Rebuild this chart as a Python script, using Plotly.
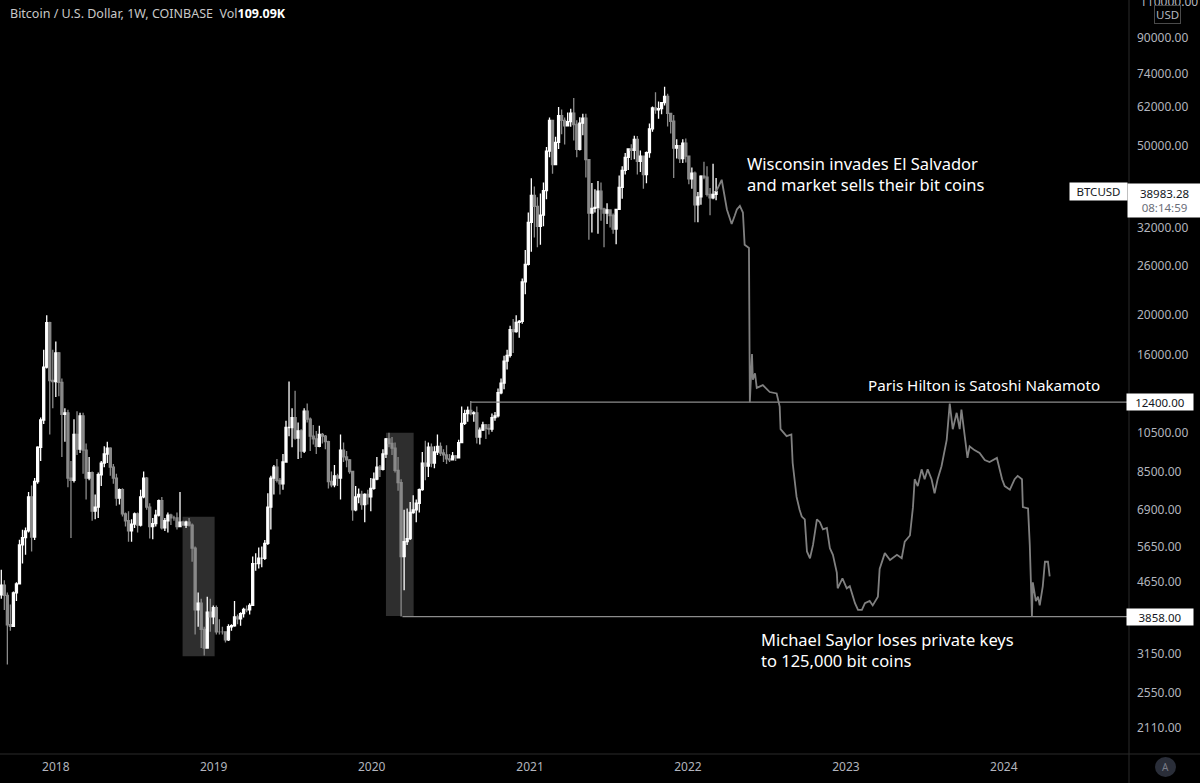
import math
import pandas as pd
import plotly.graph_objects as go

# weekly BTC/USD candles (Coinbase), weeks start on Monday
first_week = "2017-08-28"
first_open = 4340

close_2017 = [4580, 4330, 3690, 3660, 4390, 4610, 5700, 5930, 6150, 7400, 5950, 8050, 9700, 11250, 15000, 19100, 13950, 13860]
high_2017 = [4980, 4700, 4400, 4120, 4420, 4650, 5860, 6190, 6270, 7600, 7880, 8200, 9750, 11400, 16500, 19890, 19200, 16500]
low_2017 = [4250, 4000, 2972, 3570, 3660, 4200, 4600, 5150, 5400, 6100, 5500, 5850, 7950, 9000, 11000, 14900, 10400, 12000]

close_2018 = [16200, 13800, 11600, 11700, 8200, 8100, 10400, 9600, 11500, 9550, 8200, 8450, 6850, 7000, 8350, 8900,
              9350, 9650, 8700, 8200, 7350, 7700, 6750, 6500, 6150, 6380, 6750, 6350, 7400, 8200, 7000, 6300,
              6400, 6700, 7250, 6250, 6500, 6700, 6600, 6600, 6300, 6450, 6350, 6450, 6350, 5600, 4000, 4150,
              3600, 3250, 3950, 3850]
high_2018 = [17250, 16300, 14100, 12000, 11900, 9000, 11300, 11800, 11700, 11700, 9900, 9200, 8500, 7500, 8450, 9000,
             9750, 9990, 9700, 8850, 8400, 7750, 7760, 6800, 6850, 6550, 6800, 6800, 7700, 8500, 8250, 7150,
             6600, 6900, 7300, 7400, 6600, 6800, 6750, 6680, 6800, 7600, 6500, 6500, 6600, 6400, 5650, 4400,
             4250, 3650, 4300, 4250]
low_2018 = [12750, 12800, 9200, 10000, 7800, 5920, 8000, 9300, 9400, 8400, 7300, 8100, 6500, 6550, 6600, 7850,
            8700, 8900, 8300, 7950, 7050, 7100, 6650, 6300, 5800, 5800, 6250, 6100, 6300, 7350, 6900, 5900,
            5880, 6300, 6650, 6200, 6150, 6100, 6350, 6500, 6200, 6300, 6350, 6250, 6300, 5200, 3500, 3650,
            3250, 3122, 3240, 3550]

close_2019 = [4050, 3550, 3550, 3550, 3400, 3650, 3670, 3850, 3810, 3920, 4010, 4000, 4100, 5150, 5150, 5300,
              5300, 5750, 7000, 8200, 8700, 8100, 7950, 8950, 10800, 10800, 11400, 10200, 10600, 9500, 11800, 11300,
              10300, 10150, 9750, 10400, 10300, 10000, 8050, 7900, 8300, 8200, 9550, 9200, 9050, 8500, 6900, 7400,
              7500, 7100, 7500, 7400]
high_2019 = [4100, 4100, 3800, 3650, 3550, 3700, 3700, 4200, 3900, 3950, 4050, 4100, 4150, 5350, 5450, 5620,
             5650, 5850, 7550, 8300, 8800, 9100, 8200, 9350, 11200, 13880, 12000, 13200, 11100, 10700, 12000, 12300,
             11400, 10950, 10600, 10900, 10480, 10370, 10050, 8500, 8800, 8400, 10400, 9950, 9500, 9100, 8500, 7850,
             7750, 7650, 7550, 7700]
low_2019 = [3700, 3500, 3500, 3500, 3350, 3380, 3570, 3650, 3700, 3670, 3840, 3950, 3900, 4100, 4950, 5010,
            5050, 5250, 5700, 6200, 7500, 8000, 7500, 7700, 8950, 10300, 9700, 10100, 9100, 9150, 9400, 11100,
            9500, 9850, 9350, 9700, 9900, 9600, 7750, 7800, 7800, 7850, 7300, 8950, 8700, 8400, 6500, 6850,
            7150, 6900, 6450, 7100]

close_2020 = [7750, 8150, 8700, 8600, 9350, 10150, 9900, 9650, 8550, 8000, 5350, 5800, 5900, 6800, 6900, 7150,
              7700, 8900, 8750, 9700, 8900, 9450, 9750, 9400, 9300, 9100, 9050, 9250, 9150, 9950, 11050, 11650,
              11850, 11650, 11700, 10250, 10650, 10950, 10750, 10700, 11400, 11500, 13050, 13750, 15500, 16000, 18400, 18200,
              19150, 19250, 23850, 26250]
high_2020 = [8200, 8450, 9200, 8800, 9600, 10200, 10500, 10250, 9950, 9200, 8150, 6900, 6950, 7200, 7470, 7300,
             7750, 9450, 10050, 9950, 9900, 9750, 10400, 9950, 9600, 9800, 9350, 9450, 9300, 10100, 12100, 11900,
             12100, 12480, 11800, 12100, 10800, 11150, 11000, 11000, 11650, 11750, 13350, 14100, 15950, 16500, 18800, 19500,
             19900, 19400, 24300, 28400]
low_2020 = [6850, 7700, 8100, 8250, 8550, 9150, 9700, 9300, 8450, 7650, 3858, 4450, 5700, 5850, 6750, 6450,
            6800, 7650, 8100, 8250, 8700, 8650, 9300, 9250, 8950, 8850, 8950, 9050, 9000, 9150, 9950, 10950,
            11150, 11550, 11150, 9900, 9850, 10600, 10150, 10400, 10550, 11200, 11400, 12950, 13300, 14800, 15800, 16200,
            18100, 17600, 19000, 22300]

close_2021 = [33000, 38200, 36000, 32300, 34300, 39200, 48600, 57500, 45200, 51000, 59000, 57500, 55800, 57100, 59800, 56200,
              49100, 56600, 58200, 46400, 34700, 35600, 35800, 39100, 35500, 34700, 35300, 34250, 31800, 35400, 39900, 43800,
              47000, 49200, 48800, 51800, 46000, 47300, 42800, 48200, 54900, 61500, 60900, 61300, 63300, 65500, 59700, 57200,
              49400, 50100, 46700, 50800]
high_2021 = [34800, 41950, 40100, 37800, 38600, 41000, 49700, 58350, 57600, 52600, 61800, 61000, 58400, 60000, 61200, 64900,
             57500, 58500, 59600, 59600, 46600, 40900, 39500, 41300, 41000, 35700, 36600, 35400, 34600, 35500, 42600, 44800,
             48100, 49400, 50500, 52900, 52800, 48800, 47400, 48500, 56500, 62000, 67000, 63700, 63500, 69000, 66400, 59800,
             59200, 51900, 50200, 51900]
low_2021 = [26100, 28100, 30400, 28800, 29200, 32300, 37400, 47000, 43000, 45000, 49200, 53300, 50400, 55600, 55500, 51500,
            47000, 48800, 53000, 42100, 30000, 31200, 34800, 31000, 33300, 28800, 32700, 32100, 31000, 29300, 35300, 37500,
            42800, 43900, 46300, 46500, 42800, 43400, 39600, 40800, 46900, 54000, 59600, 58000, 59400, 62300, 55600, 53500,
            42000, 46700, 45600, 45600]

close_2022 = [47300, 41800, 43100, 36300, 37900, 42400, 42200, 38400, 37700, 38400, 38983.28]
high_2022 = [52100, 47500, 44500, 43500, 38900, 42650, 45900, 44800, 39800, 45400, 42000]
low_2022 = [45700, 40600, 39600, 33000, 33000, 36300, 41700, 38000, 34300, 37400, 37200]

week_close = close_2017 + close_2018 + close_2019 + close_2020 + close_2021 + close_2022
week_high = high_2017 + high_2018 + high_2019 + high_2020 + high_2021 + high_2022
week_low = low_2017 + low_2018 + low_2019 + low_2020 + low_2021 + low_2022
week_open = [first_open] + week_close[:-1]
weeks = pd.date_range(first_week, periods=len(week_close), freq="7D")

# the hand drawn "forecast" line
proj_dates = ["2022-03-07", "2022-03-20", "2022-04-01", "2022-04-12", "2022-04-19", "2022-04-24", "2022-05-01",
              "2022-05-08", "2022-05-12", "2022-05-22", "2022-05-24", "2022-05-29", "2022-05-31", "2022-06-05",
              "2022-06-09", "2022-06-23", "2022-07-09", "2022-07-25", "2022-08-01", "2022-08-03", "2022-08-17",
              "2022-08-28", "2022-08-31", "2022-09-09", "2022-09-16", "2022-09-21", "2022-09-28", "2022-10-03",
              "2022-10-10", "2022-10-17", "2022-10-26", "2022-11-02", "2022-11-09", "2022-11-18", "2022-11-25",
              "2022-12-02", "2022-12-11", "2022-12-13", "2022-12-24", "2023-01-03", "2023-01-10", "2023-01-22",
              "2023-01-29", "2023-02-07", "2023-02-14", "2023-02-25", "2023-03-04", "2023-03-16", "2023-03-20",
              "2023-04-01", "2023-04-13", "2023-04-29", "2023-05-10", "2023-05-17", "2023-05-29", "2023-06-05",
              "2023-06-09", "2023-06-16", "2023-06-25", "2023-07-02", "2023-07-09", "2023-07-18", "2023-07-25",
              "2023-08-01", "2023-08-10", "2023-08-22", "2023-08-29", "2023-09-05", "2023-09-14", "2023-09-21",
              "2023-09-25", "2023-10-02", "2023-10-09", "2023-10-14", "2023-10-25", "2023-11-06", "2023-11-18",
              "2023-11-29", "2023-12-16", "2023-12-28", "2024-01-03", "2024-01-15", "2024-01-26", "2024-02-02",
              "2024-02-12", "2024-02-14", "2024-02-26", "2024-03-01", "2024-03-06", "2024-03-08", "2024-03-15",
              "2024-03-20", "2024-03-24", "2024-03-31", "2024-04-05", "2024-04-12", "2024-04-16"]
proj_price = [38983, 41600, 35400, 32700, 34200, 35400, 36100,
              34800, 29200, 28700, 12400, 16100, 14000, 14500,
              13400, 13600, 13100, 13000, 12100, 10700, 10300,
              10400, 8900, 7400, 6900, 6650, 6550, 5500,
              5300, 5700, 6550, 6450, 6200, 6250, 5600,
              5400, 4900, 4500, 4750, 4500, 4550, 4150,
              4000, 4000, 4150, 4200, 4100, 4300, 5000,
              5450, 5250, 5400, 5300, 5800, 6000, 7000,
              8150, 7850, 8600, 8150, 8600, 8150, 7550,
              8150, 8750, 10100, 12300, 10700, 11700, 10700,
              11900, 10300, 9150, 9750, 9550, 9400, 9050,
              8950, 9150, 8150, 7850, 7700, 8150, 8300,
              8150, 7000, 6950, 5700, 3858, 4650, 4200,
              4300, 4100, 4550, 5200, 5200, 4800]

# horizontal levels
level_price = [12400, 3858]
level_start = ["2020-08-17", "2020-03-12"]

# shaded crash zones
zone_start = ["2018-10-21", "2020-02-03"]
zone_end = ["2019-01-03", "2020-04-07"]
zone_low = [3110, 3870]
zone_high = [6640, 10500]

y_ticks = [90000, 74000, 62000, 50000, 32000, 26000, 20000, 16000,
           10500, 8500, 6900, 5650, 4650, 3150, 2550, 2110]
top_tick = 110000
year_ticks = ["2018-01-01", "2019-01-01", "2020-01-01", "2021-01-01", "2022-01-01", "2023-01-01", "2024-01-01"]
year_labels = ["2018", "2019", "2020", "2021", "2022", "2023", "2024"]

x_range = ["2017-08-25", "2024-10-14"]
y_range = [3.2615, 5.0441]

PLOT_W, PLOT_H = 1128, 754
AXIS_GREY = "#b2b5be"
FONT = "Noto Sans"


def px(x):
    return x / PLOT_W


def py(y):
    return (PLOT_H - y) / PLOT_H


fig = go.Figure()

# shapes on a log axis take the plain price values
for s, e, lo, hi in zip(zone_start, zone_end, zone_low, zone_high):
    fig.add_shape(type="rect", xref="x", yref="y", x0=s, x1=e, y0=lo, y1=hi,
                  fillcolor="#2e2e2e", line_width=0, layer="below")

fig.add_trace(go.Candlestick(
    x=weeks, open=week_open, high=week_high, low=week_low, close=week_close,
    increasing=dict(line=dict(color="#ffffff", width=1.3), fillcolor="#ffffff"),
    decreasing=dict(line=dict(color="#8a8a8a", width=1.3), fillcolor="#8a8a8a"),
    hoverinfo="skip"))

for p, s in zip(level_price, level_start):
    fig.add_trace(go.Scatter(x=[s, x_range[1]], y=[p, p], mode="lines",
                             line=dict(color="#8c8c8c", width=1.3), hoverinfo="skip"))

fig.add_trace(go.Scatter(x=proj_dates, y=proj_price, mode="lines",
                         line=dict(color="#808080", width=1.8), hoverinfo="skip"))

# separators of the price and time scales
fig.add_shape(type="line", xref="paper", yref="paper", x0=0, x1=px(1200), y0=0, y1=0,
              line=dict(color="#2a2a2a", width=1))
fig.add_shape(type="line", xref="paper", yref="paper", x0=px(1129), x1=px(1129), y0=py(783), y1=1,
              line=dict(color="#2a2a2a", width=1))
fig.add_shape(type="circle", xref="paper", yref="paper", x0=px(1155), x1=px(1176), y0=py(777), y1=py(757),
              fillcolor="#2a2e39", line_width=0)

note_font = dict(family=FONT, size=16.5, color="#ffffff")
box_font = dict(family=FONT, size=11.5, color="#131722")
notes = [
    dict(x=px(8), y=py(13), xanchor="left", yanchor="middle",
         text="Bitcoin / U.S. Dollar, 1W, COINBASE  Vol<b><span style='color:#ffffff'>109.09K</span></b>",
         font=dict(family=FONT, size=12.5, color="#c8c8c8")),
    dict(x=px(745), y=py(174), xanchor="left", yanchor="middle", align="left",
         text="Wisconsin invades El Salvador<br>and market sells their bit coins", font=note_font),
    dict(x=px(866), y=py(385), xanchor="left", yanchor="middle",
         text="Paris Hilton is Satoshi Nakamoto",
         font=dict(family=FONT, size=15.2, color="#ffffff")),
    dict(x=px(759), y=py(650), xanchor="left", yanchor="middle", align="left",
         text="Michael Saylor loses private keys<br>to 125,000 bit coins", font=note_font),
    dict(x=px(1098.5), y=math.log10(week_close[-1]), yref="y", xanchor="center", yanchor="middle",
         text="BTCUSD", bgcolor="#ffffff", width=53, height=13, borderpad=2, font=box_font),
    dict(x=px(1164), y=math.log10(week_close[-1]), yref="y", xanchor="center", yanchor="top", yshift=8.5,
         align="center",
         text=f"{week_close[-1]:.2f}<br><span style='color:#6a6d78'>08:14:59</span>",
         bgcolor="#ffffff", width=69, height=29, borderpad=2, font=box_font),
    dict(x=px(1138), y=math.log10(top_tick), yref="y", xanchor="left", yanchor="middle",
         text=f"{top_tick:.2f}", font=dict(family=FONT, size=12, color=AXIS_GREY)),
    dict(x=px(1167), y=py(15), xanchor="center", yanchor="middle",
         text="USD", bgcolor="#000000", bordercolor="#4a4a4a", borderwidth=1, borderpad=1,
         font=dict(family=FONT, size=11.5, color=AXIS_GREY)),
    dict(x=px(1165.5), y=py(767), xanchor="center", yanchor="middle",
         text="A", font=dict(family=FONT, size=10, color="#787b86")),
]
for p in level_price:
    notes.append(dict(x=px(1160), y=math.log10(p), yref="y", xanchor="center", yanchor="middle",
                      text=f"{p:.2f}", bgcolor="#ffffff", width=62, height=12, borderpad=2,
                      font=box_font))
for n in notes:
    n.setdefault("xref", "paper")
    n.setdefault("yref", "paper")
    n.setdefault("showarrow", False)
    fig.add_annotation(**n)

fig.update_layout(
    width=1200, height=783,
    margin=dict(l=0, r=72, t=0, b=29),
    paper_bgcolor="#000000", plot_bgcolor="#000000",
    showlegend=False,
    boxgap=0.05,
    xaxis=dict(type="date", range=x_range, rangeslider=dict(visible=False), automargin=False,
               showgrid=False, zeroline=False, showline=False,
               tickvals=year_ticks, ticktext=year_labels, ticks="", ticklabelstandoff=4,
               tickfont=dict(family=FONT, size=12, color=AXIS_GREY)),
    yaxis=dict(type="log", range=y_range, side="right", showgrid=False, zeroline=False,
               showline=False, ticks="", tickvals=y_ticks, automargin=False,
               ticktext=[f"{v:.2f}" for v in y_ticks], ticklabelstandoff=8,
               tickfont=dict(family=FONT, size=12, color=AXIS_GREY)),
)

fig.write_html("out.html", config={"displayModeBar": False},
               post_script="document.body.style.margin='0';")
